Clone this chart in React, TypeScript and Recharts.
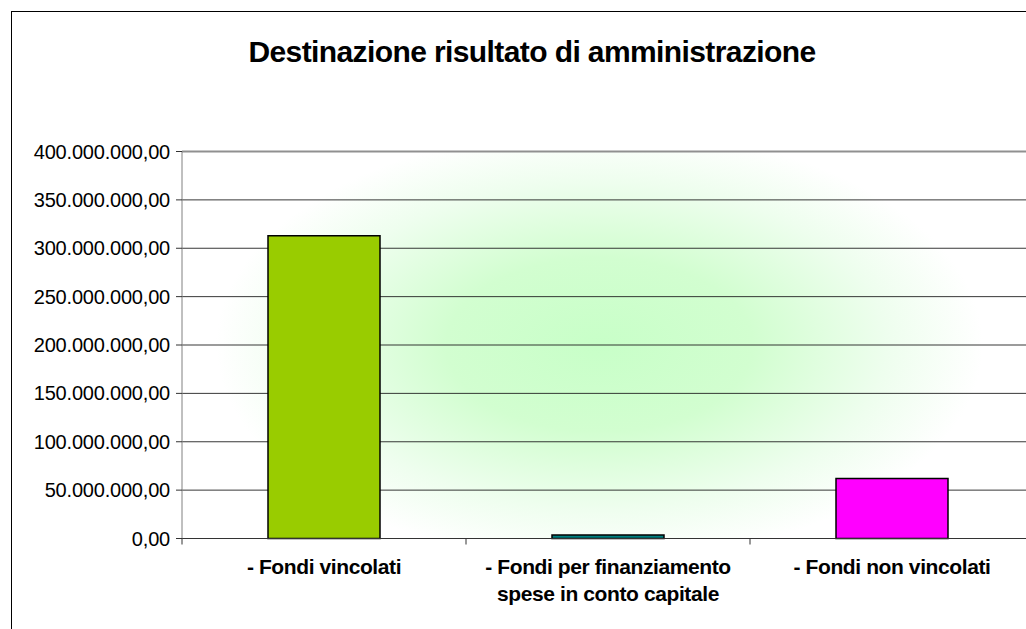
import React from "react";
import { BarChart, Bar, XAxis, YAxis, CartesianGrid, ReferenceLine, Cell } from "recharts";

const categories = [
  "- Fondi vincolati",
  "- Fondi per finanziamento\nspese in conto capitale",
  "- Fondi non vincolati",
];
const values = [313000000, 3500000, 62000000];
const barColors = ["#99cc00", "#008080", "#ff00ff"];
const yTicks = [0, 50000000, 100000000, 150000000, 200000000, 250000000, 300000000, 350000000, 400000000];
const title = "Destinazione risultato di amministrazione";

const data = categories.map((c, i) => ({ name: c, value: values[i], idx: i }));

const FONT = "'Liberation Sans', Arial, sans-serif";

function fmtIt(n: number): string {
  const int = Math.round(n).toString();
  const withDots = int.replace(/\B(?=(\d{3})+(?!\d))/g, ".");
  return withDots + ",00";
}

const XLabel = (props: any) => {
  const { x, y, payload, index, visibleTicksCount } = props;
  const half = payload && payload.offset ? payload.offset : 0;
  const lines = String(payload.value).split("\n");
  const isLast = visibleTicksCount ? index === visibleTicksCount - 1 : index === categories.length - 1;
  return (
    <g>
      <line x1={x - half} x2={x - half} y1={y} y2={y + 6} stroke="#333" strokeWidth={1} />
      {isLast && <line x1={x + half} x2={x + half} y1={y} y2={y + 6} stroke="#333" strokeWidth={1} />}
      <text
        x={x}
        y={y}
        textAnchor="middle"
        fontFamily={FONT}
        fontSize={21}
        fontWeight="bold"
        letterSpacing={-0.4}
        fill="#000"
      >
        {lines.map((l, i) => (
          <tspan key={i} x={x} y={y + 35.5 + i * 27}>
            {l}
          </tspan>
        ))}
      </text>
    </g>
  );
};

export default function App() {
  return (
    <div
      style={{
        position: "fixed",
        left: 0,
        top: 0,
        width: 1026,
        height: 629,
        overflow: "hidden",
        background: "#fff",
      }}
    >
      <div
        style={{
          position: "absolute",
          left: 11,
          top: 11,
          width: 1400,
          height: 700,
          borderLeft: "1px solid #000",
          borderTop: "1px solid #000",
          background: "#fff",
        }}
      >
        <BarChart
          width={1100}
          height={700}
          data={data}
          margin={{ top: 139.5, right: 78, bottom: 93.5, left: 0 }}
          barSize={112}
        >
          <defs>
            <radialGradient
              id="bgGlow"
              cx="0.49"
              cy="0.5"
              r="0.5"
              gradientTransform="translate(0.49 0.5) scale(0.9 1.12) translate(-0.49 -0.5)"
            >
              <stop offset="0" stopColor="#c8ffc8" />
              <stop offset="0.4" stopColor="#d2fed0" />
              <stop offset="0.75" stopColor="#eefeee" />
              <stop offset="1" stopColor="#ffffff" />
            </radialGradient>
          </defs>
          <CartesianGrid vertical={false} stroke="#222" strokeOpacity={0.9} fill="url(#bgGlow)" fillOpacity={1} />
          <XAxis
            dataKey="name"
            type="category"
            height={80}
            tickLine={false}
            tickSize={0}
            tickMargin={0}
            axisLine={{ stroke: "#333" }}
            tick={<XLabel />}
            interval={0}
          />
          <YAxis
            width={170}
            domain={[0, 400000000]}
            ticks={yTicks}
            tickFormatter={fmtIt}
            tickSize={6}
            tickMargin={6}
            axisLine={{ stroke: "#808080" }}
            tickLine={{ stroke: "#333" }}
            tick={{ fill: "#000", fontSize: 20, fontFamily: FONT, letterSpacing: -0.2 }}
            interval={0}
          />
          <ReferenceLine y={400000000} stroke="#909090" strokeWidth={2} />
          <Bar dataKey="value" isAnimationActive={false} stroke="#000" strokeWidth={1.5}>
            {data.map((d, i) => (
              <Cell key={i} fill={barColors[i]} />
            ))}
          </Bar>
        </BarChart>
        <svg
          width={1100}
          height={100}
          style={{ position: "absolute", left: 0, top: 0, pointerEvents: "none" }}
        >
          <text
            x={520}
            y={50}
            textAnchor="middle"
            fontFamily={FONT}
            fontSize={30}
            fontWeight="bold"
            letterSpacing={-0.6}
            fill="#000"
          >
            {title}
          </text>
        </svg>
      </div>
    </div>
  );
}
